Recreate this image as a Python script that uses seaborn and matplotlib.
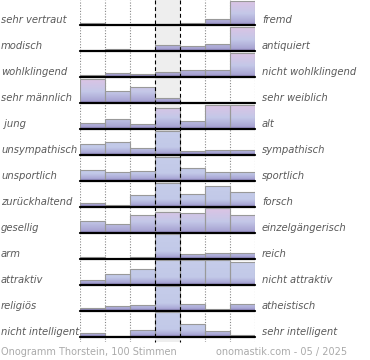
import numpy as np
import pandas as pd
import matplotlib
matplotlib.use("Agg")
import matplotlib.pyplot as plt
from matplotlib.colors import LinearSegmentedColormap
from matplotlib.lines import Line2D
import seaborn as sns

# ---------------- data ----------------
left_labels = ["sehr vertraut", "modisch", "wohlklingend", "sehr männlich", " jung",
               "unsympathisch", "unsportlich", "zurückhaltend", "gesellig", "arm",
               "attraktiv", "religiös", "nicht intelligent"]
right_labels = ["fremd", "antiquiert", "nicht wohlklingend", "sehr weiblich", "alt",
                "sympathisch", "sportlich", "forsch", "einzelgängerisch", "reich",
                "nicht attraktiv", "atheistisch", "sehr intelligent"]
positions = ["1", "2", "3", "4", "5", "6", "7"]

# estimated vote share (%) per scale position
v_vertraut = [6, 0, 3, 3, 6, 15, 65]
v_modisch = [0, 5, 0, 13, 10, 16, 54]
v_wohlklingend = [4, 7, 5, 10, 13, 13, 48]
v_maennlich = [43, 21, 28, 8, 0, 0, 0]
v_jung = [6, 10, 5, 21, 8, 25, 25]
v_unsympathisch = [16, 19, 10, 36, 5, 7, 7]
v_unsportlich = [13, 11, 12, 29, 15, 10, 10]
v_zurueckhaltend = [4, 2, 13, 27, 14, 23, 17]
v_gesellig = [10, 7, 15, 17, 16, 20, 15]
v_arm = [5, 0, 5, 55, 11, 12, 12]
v_attraktiv = [4, 8, 12, 19, 19, 19, 18]
v_religioes = [6, 9, 11, 47, 12, 3, 12]
v_intelligent = [7, 1, 12, 43, 23, 10, 3]

rows = [v_vertraut, v_modisch, v_wohlklingend, v_maennlich, v_jung, v_unsympathisch,
        v_unsportlich, v_zurueckhaltend, v_gesellig, v_arm, v_attraktiv, v_religioes,
        v_intelligent]

footer_left = "Onogramm Thorstein, 100 Stimmen"
footer_right = "onomastik.com - 05 / 2025"

# ---------------- style ----------------
pink_rows = [True, True, True, True, True, False, False, False, True, False, False, False, False]
cmap_pink = LinearSegmentedColormap.from_list(
    "pink", [(0.0, "#857bb6"), (0.1, "#a9a5d3"), (0.45, "#c4c8e8"), (1.0, "#dec3e4")])
cmap_blue = LinearSegmentedColormap.from_list(
    "blue", [(0.0, "#857bb6"), (0.1, "#aaa8d6"), (0.3, "#c2c9e8"), (1.0, "#c6cdea")])

sns.set_theme(style="white")
plt.rcParams["font.family"] = ["DejaVu Sans"]

W, H = 370, 360
fig = plt.figure(figsize=(W / 100, H / 100), dpi=100)
fig.patch.set_facecolor("white")

x_left, x_right = 80, 255
first_base, step = 25.0, 25.97
row_h = 25.0
plot_bottom = 342


def fx(px):
    return px / W


def fy(py):
    return 1 - py / H


# background: grey middle column and dotted grid
ax_bg = fig.add_axes([fx(x_left), fy(plot_bottom), fx(x_right - x_left), (plot_bottom) / H])
ax_bg.set_xlim(0, 7)
ax_bg.set_ylim(0, 1)
ax_bg.axis("off")
ax_bg.axvspan(3, 4, color="#eeeeee", lw=0)
for xv in [0, 1, 2, 5, 6, 7]:
    ax_bg.axvline(xv, color="#888888", ls=(0, (1, 1.5)), lw=0.8)

grad = np.linspace(0, 1, 256).reshape(-1, 1)

for i, vals in enumerate(rows):
    base = first_base + step * i
    ax = fig.add_axes([fx(x_left), fy(base), fx(x_right - x_left), row_h / H])
    ax.patch.set_alpha(0)
    df = pd.DataFrame({"pos": positions, "share": vals})
    sns.barplot(data=df, x="pos", y="share", ax=ax, width=1.0,
                facecolor="none", edgecolor="#999999", linewidth=0.8, zorder=3)
    top = max(vals) * 1.03
    ax.set_xlim(-0.5, 6.5)
    ax.set_ylim(0, top)
    ax.axis("off")
    cmap = cmap_pink if pink_rows[i] else cmap_blue
    for p in ax.patches:
        if p.get_height() <= 0:
            continue
        x0 = p.get_x()
        im = ax.imshow(grad, cmap=cmap, origin="lower", aspect="auto",
                       extent=(x0, x0 + p.get_width(), 0, top), zorder=2,
                       interpolation="bilinear")
        im.set_clip_path(p)
    ax.set_xlim(-0.5, 6.5)
    ax.set_ylim(0, top)
    ax.axhline(0, color="black", lw=1.6, clip_on=False, zorder=5)

    fig.text(fx(1), fy(base - 5), left_labels[i], ha="left", va="center",
             style="italic", color="#5a5a5a", fontsize=7.2)
    fig.text(fx(262), fy(base - 5), right_labels[i], ha="left", va="center",
             style="italic", color="#5a5a5a", fontsize=7.2)

# dashed borders of the middle column, on top of the bars
for xp in [155, 180]:
    fig.add_artist(Line2D([fx(xp), fx(xp)], [fy(0), fy(plot_bottom)],
                          transform=fig.transFigure, color="black",
                          ls=(0, (3.5, 2.5)), lw=0.8, zorder=10))

fig.text(fx(1), fy(352), footer_left, ha="left", va="center", color="#aaaaaa", fontsize=7)
fig.text(fx(347), fy(352), footer_right, ha="right", va="center", color="#aaaaaa", fontsize=7)

fig.savefig("out.png", dpi=100, facecolor="white")
